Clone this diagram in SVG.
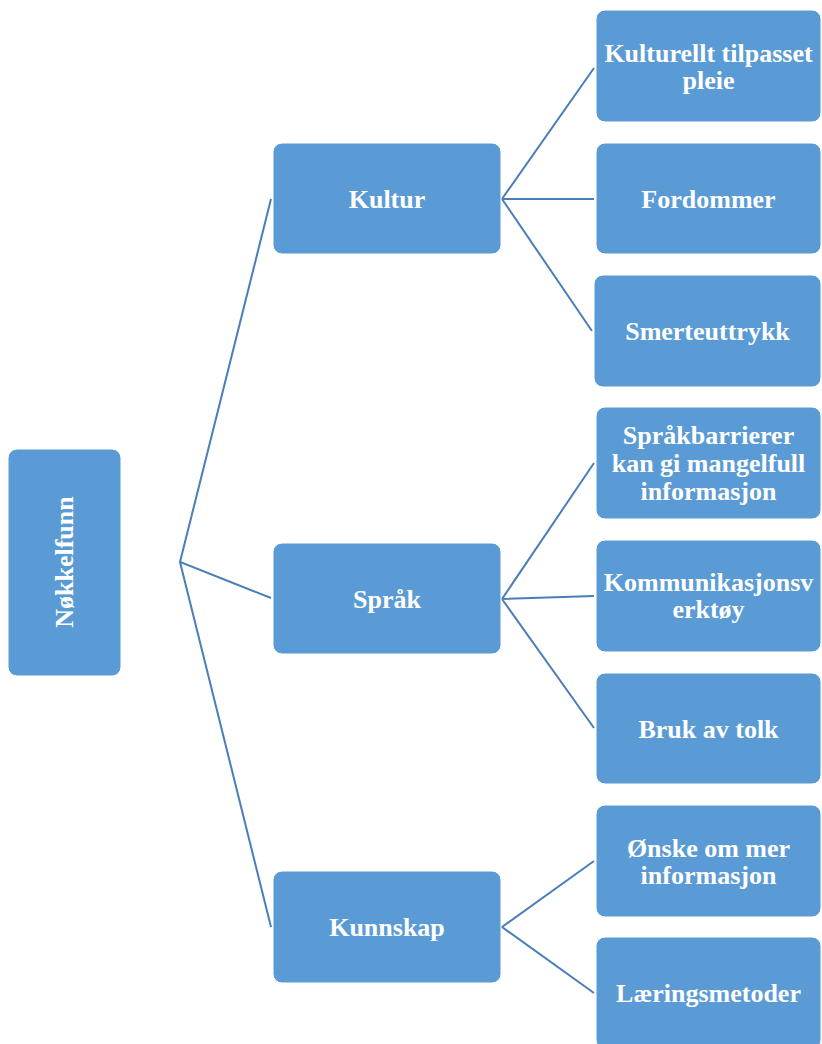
<svg xmlns="http://www.w3.org/2000/svg" width="822" height="1044" viewBox="0 0 822 1044">
<style>
.box{fill:#5b9bd5;stroke:#ffffff;stroke-width:1}
.t{fill:#ffffff;font-family:"Liberation Serif","Times New Roman",serif;font-weight:bold;font-size:26px;text-anchor:middle}
.c{stroke:#4a7ebb;stroke-width:2;fill:none}
</style>
<rect width="822" height="1044" fill="#ffffff"/>
<g id="connectors">
<path class="c" d="M271,199 L180,562 L271,598 M180,562 L271,927"/>
<path class="c" d="M594,68 L502,199 L594,199 M502,199 L592,331"/>
<path class="c" d="M594,463 L502,599 L594,596 M502,599 L594,728"/>
<path class="c" d="M594,861 L502,927 L594,993"/>
</g>
<g id="n-root"><rect class="box" x="8" y="449" width="113" height="227" rx="9"/><text class="t" transform="translate(73,562) rotate(-90)">Nøkkelfunn</text></g>
<g id="n-kultur"><rect class="box" x="273" y="143" width="228" height="111" rx="9"/><text class="t" x="387" y="207.5">Kultur</text></g>
<g id="n-sprak"><rect class="box" x="273" y="543" width="228" height="111" rx="9"/><text class="t" x="387" y="607.5">Språk</text></g>
<g id="n-kunnskap"><rect class="box" x="273" y="871" width="228" height="112" rx="9"/><text class="t" x="387" y="936">Kunnskap</text></g>
<g id="n-kulturellt"><rect class="box" x="596" y="10" width="225" height="112" rx="9"/><text class="t" x="708.5" y="61.5">Kulturellt tilpasset</text><text class="t" x="708.5" y="88.5">pleie</text></g>
<g id="n-fordommer"><rect class="box" x="596" y="143" width="225" height="111" rx="9"/><text class="t" x="708.5" y="207.5">Fordommer</text></g>
<g id="n-smerte"><rect class="box" x="594" y="275" width="227" height="112" rx="9"/><text class="t" x="707.5" y="340">Smerteuttrykk</text></g>
<g id="n-sprakbarrierer"><rect class="box" x="596" y="407" width="225" height="112" rx="9"/><text class="t" x="708.5" y="444">Språkbarrierer</text><text class="t" x="708.5" y="472">kan gi mangelfull</text><text class="t" x="708.5" y="500">informasjon</text></g>
<g id="n-kommunikasjon"><rect class="box" x="596" y="540" width="225" height="112" rx="9"/><text class="t" x="708.5" y="591">Kommunikasjonsv</text><text class="t" x="708.5" y="618">erktøy</text></g>
<g id="n-tolk"><rect class="box" x="596" y="673" width="225" height="111" rx="9"/><text class="t" x="708.5" y="737.5">Bruk av tolk</text></g>
<g id="n-onske"><rect class="box" x="596" y="805" width="225" height="112" rx="9"/><text class="t" x="708.5" y="856.5">Ønske om mer</text><text class="t" x="708.5" y="883.5">informasjon</text></g>
<g id="n-laering"><rect class="box" x="596" y="937" width="225" height="112" rx="9"/><text class="t" x="708.5" y="1002">Læringsmetoder</text></g>
</svg>
